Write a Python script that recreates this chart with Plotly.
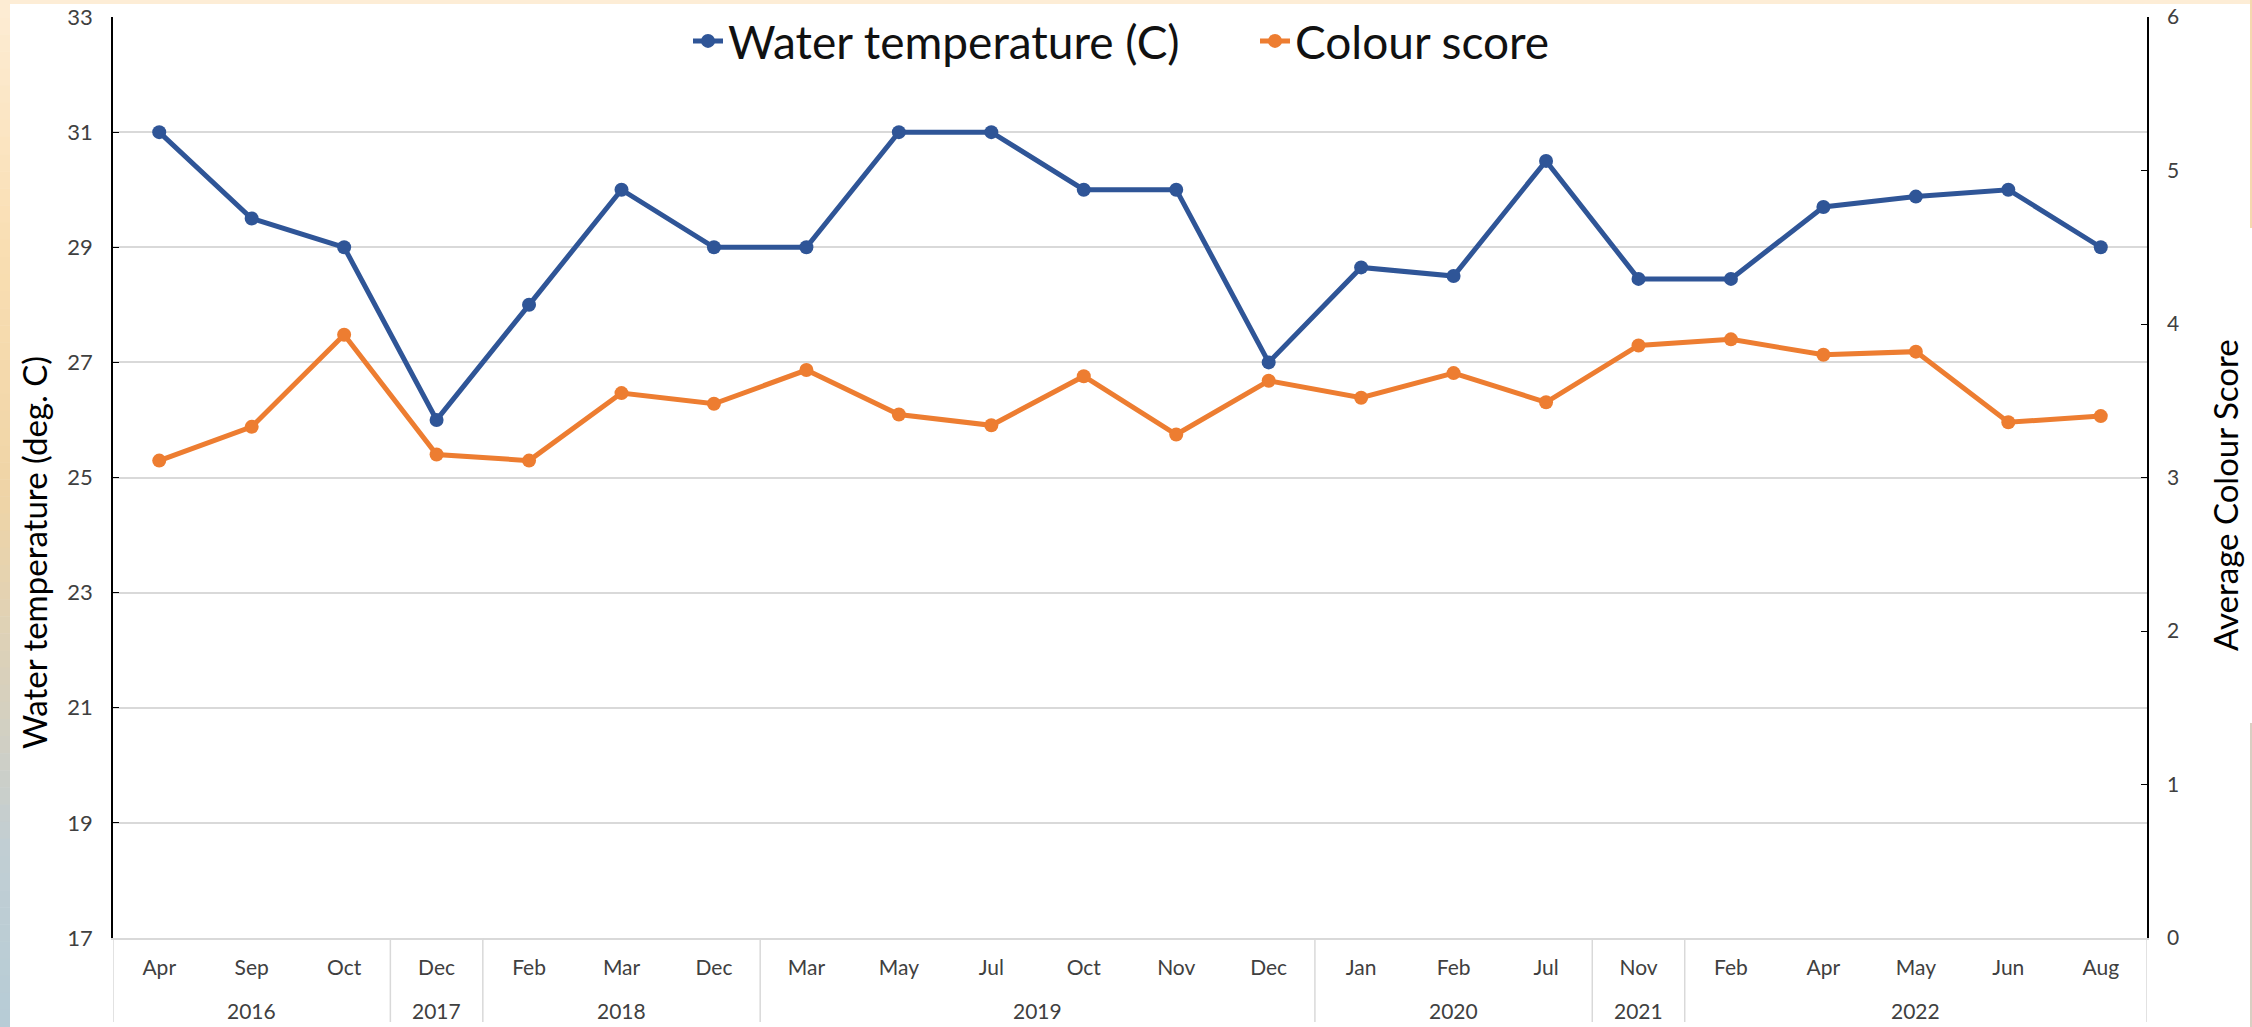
import plotly.graph_objects as go

# ---- data ----
years = ["2016", "2016", "2016", "2017", "2018", "2018", "2018",
         "2019", "2019", "2019", "2019", "2019", "2019",
         "2020", "2020", "2020", "2021",
         "2022", "2022", "2022", "2022", "2022"]
months = ["Apr", "Sep", "Oct", "Dec", "Feb", "Mar", "Dec",
          "Mar", "May", "Jul", "Oct", "Nov", "Dec",
          "Jan", "Feb", "Jul", "Nov",
          "Feb", "Apr", "May", "Jun", "Aug"]
water_temp = [31.0, 29.5, 29.0, 26.0, 28.0, 30.0, 29.0,
              29.0, 31.0, 31.0, 30.0, 30.0, 27.0,
              28.65, 28.5, 30.5, 28.45,
              28.45, 29.7, 29.88, 30.0, 29.0]
colour_score = [3.11, 3.33, 3.93, 3.15, 3.11, 3.55, 3.48,
                3.70, 3.41, 3.34, 3.66, 3.28, 3.63,
                3.52, 3.68, 3.49, 3.86,
                3.90, 3.80, 3.82, 3.36, 3.40]
left_ticks = [17, 19, 21, 23, 25, 27, 29, 31, 33]
right_ticks = [0, 1, 2, 3, 4, 5, 6]

BLUE = "#2F5597"
ORANGE = "#ED7D31"
FONT = "Lato"

W, H = 2252, 1027
L, R, T, B = 113, 2147, 17, 938

# unique category keys (month + year) so the order is preserved
cats = [m + " " + y for m, y in zip(months, years)]

fig = go.Figure()
fig.add_trace(go.Scatter(
    x=cats, y=water_temp, name="Water temperature (C)",
    mode="lines+markers", line=dict(color=BLUE, width=5),
    marker=dict(color=BLUE, size=14), yaxis="y", legend="legend"))
fig.add_trace(go.Scatter(
    x=cats, y=colour_score, name="Colour score",
    mode="lines+markers", line=dict(color=ORANGE, width=5),
    marker=dict(color=ORANGE, size=14), yaxis="y2", legend="legend2"))


def px_x(p):
    return (p - L) / (R - L)


def px_y(p):
    return (B - p) / (B - T)


# year groups -> label centres and dividers
groups = []
for i, y in enumerate(years):
    if groups and groups[-1][0] == y:
        groups[-1][2] = i
    else:
        groups.append([y, i, i])

shapes = []
annotations = []
for g, (y, i0, i1) in enumerate(groups):
    annotations.append(dict(text=y, xref="x", yref="paper", x=(i0 + i1) / 2,
                            y=px_y(1010), xanchor="center", yanchor="middle",
                            showarrow=False,
                            font=dict(family=FONT, size=21, color="#404040")))
    shapes.append(dict(type="line", xref="x", yref="paper", x0=i0 - 0.5, x1=i0 - 0.5,
                       y0=px_y(938), y1=px_y(1022),
                       line=dict(color="#D9D9D9", width=1.5)))
shapes.append(dict(type="line", xref="x", yref="paper",
                   x0=len(years) - 0.5, x1=len(years) - 0.5,
                   y0=px_y(938), y1=px_y(1022), line=dict(color="#D9D9D9", width=1.5)))

# decorative frame (gradient strip on left, band on top)
stops = [(0, (253, 236, 212)), (250, (249, 222, 178)), (500, (239, 212, 166)),
         (700, (214, 208, 190)), (850, (193, 206, 211)), (1027, (182, 204, 214))]
nseg = 60
for i in range(nseg):
    y0 = H * i / nseg
    y1 = H * (i + 1) / nseg
    ym = (y0 + y1) / 2
    c = stops[-1][1]
    for j in range(len(stops) - 1):
        if stops[j][0] <= ym <= stops[j + 1][0]:
            a, ca = stops[j]
            b, cb = stops[j + 1]
            t = (ym - a) / (b - a)
            c = tuple(int(round(ca[k] + (cb[k] - ca[k]) * t)) for k in range(3))
            break
    shapes.append(dict(type="rect", xref="paper", yref="paper",
                       x0=px_x(0), x1=px_x(10), y0=px_y(y1 + 0.5), y1=px_y(y0),
                       fillcolor="rgb(%d,%d,%d)" % c, line=dict(width=0), layer="below"))
shapes.append(dict(type="rect", xref="paper", yref="paper",
                   x0=px_x(10), x1=px_x(W), y0=px_y(4), y1=px_y(0),
                   fillcolor="#FDEDD6", line=dict(width=0), layer="below"))
shapes.append(dict(type="line", xref="paper", yref="paper",
                   x0=px_x(2251), x1=px_x(2251), y0=px_y(228), y1=px_y(0),
                   line=dict(color="#F5D9AE", width=2)))
shapes.append(dict(type="line", xref="paper", yref="paper",
                   x0=px_x(2251), x1=px_x(2251), y0=px_y(1027), y1=px_y(723),
                   line=dict(color="#D8CFC2", width=2)))

annotations += [
    dict(text="Water temperature (deg. C)", xref="paper", yref="paper",
         x=px_x(34), y=px_y(553), xanchor="center", yanchor="middle",
         textangle=-90, showarrow=False,
         font=dict(family=FONT, size=33, color="#000000")),
    dict(text="Average Colour Score", xref="paper", yref="paper",
         x=px_x(2225), y=px_y(495), xanchor="center", yanchor="middle",
         textangle=-90, showarrow=False,
         font=dict(family=FONT, size=33, color="#000000")),
]

legend_common = dict(orientation="h", yanchor="middle", y=px_y(41),
                     font=dict(family=FONT, size=46, color="#111111"),
                     bgcolor="rgba(0,0,0,0)", itemwidth=30, borderwidth=0)

fig.update_layout(
    width=W, height=H,
    margin=dict(l=L, r=W - R, t=T, b=H - B, pad=0, autoexpand=False),
    paper_bgcolor="white", plot_bgcolor="white",
    font=dict(family=FONT, color="#404040", size=21),
    showlegend=True,
    legend=dict(x=px_x(688), xanchor="left", **legend_common),
    legend2=dict(x=px_x(1255), xanchor="left", **legend_common),
    xaxis=dict(type="category", showgrid=False, ticks="",
               tickvals=cats, ticktext=months,
               showline=True, linecolor="#D9D9D9", linewidth=2,
               tickfont=dict(family=FONT, size=21, color="#404040"),
               ticklabelstandoff=10,
               range=[-0.5, len(months) - 0.5]),
    yaxis=dict(range=[17, 33], tickvals=left_ticks, showgrid=True,
               gridcolor="#D9D9D9", gridwidth=1.5,
               showline=True, linecolor="#000000", linewidth=1.5,
               ticks="inside", ticklen=6, tickcolor="#000000",
               tickfont=dict(family=FONT, size=22, color="#404040"),
               ticklabelstandoff=14, zeroline=False),
    yaxis2=dict(range=[0, 6], tickvals=right_ticks, overlaying="y", side="right",
                showgrid=False, showline=True, linecolor="#000000", linewidth=1.5,
                ticks="inside", ticklen=6, tickcolor="#000000",
                tickfont=dict(family=FONT, size=21, color="#404040"),
                ticklabelstandoff=14, zeroline=False),
    shapes=shapes,
    annotations=annotations,
)

fig.write_html("out.html", config={"displayModeBar": False},
               post_script="document.body.style.margin='0';document.body.style.overflow='hidden';")
